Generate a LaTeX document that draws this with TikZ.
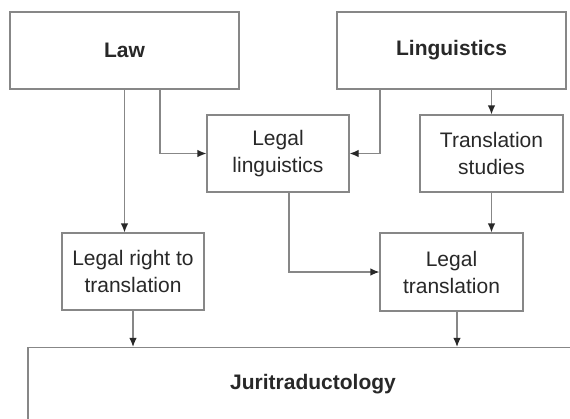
\documentclass[tikz,border=0pt]{standalone}
\usepackage{fontspec}
\setmainfont{Liberation Sans}
\usetikzlibrary{arrows.meta}

\definecolor{rule}{RGB}{135,135,135}
\definecolor{ink}{RGB}{40,40,40}

\begin{document}
\begin{tikzpicture}[x=1pt, y=-1pt,
    box/.style={draw=rule, line width=1.2pt, fill=white, text=ink, align=center,
        inner sep=0pt, font=\fontsize{21}{27}\selectfont},
    conn/.style={draw=rule, line width=1.2pt, -{Latex[length=9pt,width=7.5pt,color=ink]}}]
            \useasboundingbox (0,0) rectangle (570,418);
            \clip (0,0) rectangle (570,418);

            \node[box, minimum width=229pt, minimum height=77pt] (law) at (124.5,50.5) {\bfseries Law};
            \node[box, minimum width=229pt, minimum height=77pt] (ling) at (451.5,50.5) {\bfseries Linguistics};
            \node[box, minimum width=142pt, minimum height=77pt] (legling) at (278,153.5) {Legal\\linguistics};
            \node[box, minimum width=143pt, minimum height=77pt] (transst) at (491.5,153.5) {Translation\\studies};
            \node[box, minimum width=142pt, minimum height=77pt] (rightto) at (133,271.5) {Legal right to\\translation};
            \node[box, minimum width=143pt, minimum height=78pt] (legtr) at (451.5,272) {Legal\\translation};
            \node[box, minimum width=570pt, minimum height=74pt] (juri) at (313,384.5) {\bfseries Juritraductology};

            \draw[conn] (law.south) -- (law.south |- rightto.north);
            \draw[conn] ([xshift=35.5pt]law.south) |- (legling);
            \draw[conn] ([xshift=-71.5pt]ling.south) |- (legling);
            \draw[conn] (ling.south -| transst) -- (transst);
            \draw[conn] (transst) -- (transst |- legtr.north);
            \draw[conn] ([xshift=11pt]legling.south) |- (legtr);
            \draw[conn] (rightto) -- (rightto |- juri.north);
            \draw[conn] ([xshift=5.5pt]legtr.south) -- ([xshift=5.5pt]legtr.south |- juri.north);
        \end{tikzpicture}
\end{document}
